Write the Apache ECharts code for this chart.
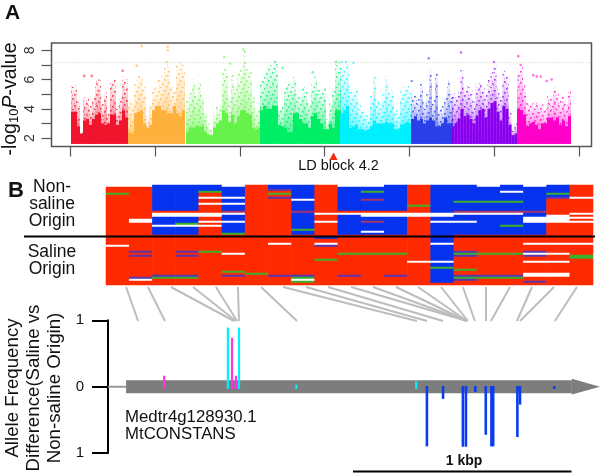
<!DOCTYPE html>
<html><head><meta charset="utf-8">
<style>html,body{margin:0;padding:0;background:#fff}#c{width:600px;height:475px}</style>
<script src="https://cdn.jsdelivr.net/npm/echarts@6/dist/echarts.min.js"></script>
</head><body><div id="c"></div>
<script>
// ---------- Panel A : Manhattan plot ----------
const chromNames=['chr1','chr2','chr3','chr4','chr5','chr6','chr7','chr8'];
const chromColors=['#f0142d','#ffb13d','#66f24a','#00ee66','#00f0ff','#2a3fe8','#8800ee','#ff00c8'];
const chromStarts=[19.5,76.5,134.5,208.5,288.5,359.5,400,465.5];
const sparseTops=[
 [5.7,5.6,4.6,2.5,4.8,4.8,4.2,4.8,6.0,6.0,4.4,5.2,3.9,6.0,6.0,4.2,4.8,6.2,6.0],
 [4.6,4.4,5.7,6.3,6.3,5.5,3.5,4.4,5.4,5.5,6.1,6.3,6.9,7.1,5.5,5.4,7.0,7.2,7.1],
 [4.6,5.3,6.0,5.0,5.9,5.0,3.9,3.0,2.6,3.7,4.2,4.3,6.7,6.7,4.6,6.4,5.5,6.4,6.8,8.0,6.7,6.7,4.8,3.9,4.2],
 [6.0,6.2,7.0,7.0,7.1,7.1,4.2,4.2,5.6,5.8,5.8,6.2,5.0,4.9,5.5,5.2,4.5,5.7,6.2,5.5,5.3,5.6,3.3,4.4,5.5,7.2,7.2],
 [6.9,6.9,7.0,5.4,5.3,5.4,4.3,4.0,3.8,3.6,5.0,6.2,4.8,4.6,5.0,6.2,5.2,5.3,4.0,3.8,5.2,5.5,5.6,5.2],
 [4.9,4.9,4.7,5.8,4.6,5.0,6.7,4.6,6.6,4.0,4.2,4.9,5.9,5.1],
 [5.1,4.9,5.3,6.7,5.4,5.7,5.2,4.6,5.7,5.9,5.6,5.0,6.0,6.5,7.0,5.4,4.9,6.6,6.3,3.7,2.7,3.0],
 [6.7,7.0,5.6,4.4,4.4,4.4,4.6,4.4,4.3,4.0,5.0,4.8,5.5,5.0,4.6,4.9,4.4,5.2]
];
const denseTops=[
 [3.8,3.8,2.8,2.3,3.2,3.3,2.9,3.3,3.6,3.7,3.0,2.9,3.0,3.6,3.6,2.9,3.2,3.9,3.4],
 [2.4,2.3,3.7,3.8,3.9,3.0,2.7,2.9,3.9,4.2,4.2,3.9,3.9,3.7,3.7,4.2,3.7,3.5,3.9],
 [2.4,2.7,2.7,2.8,2.8,2.8,2.4,2.2,2.2,2.7,3.0,3.2,3.9,3.7,3.1,3.6,3.0,3.5,3.9,3.9,3.7,3.6,2.7,2.6,2.7],
 [3.9,4.2,4.0,4.0,4.2,4.2,2.9,2.8,2.7,2.4,2.4,3.7,3.7,3.3,3.0,3.0,2.7,3.5,3.7,3.3,3.0,2.6,2.6,3.0,2.7,3.9,3.9],
 [3.7,3.9,4.2,2.7,2.8,2.9,2.6,2.6,2.5,2.6,2.8,3.2,3.0,3.0,3.0,3.1,3.0,3.0,2.6,2.6,2.9,3.0,3.1,3.0],
 [3.3,3.5,3.2,3.3,3.0,3.2,3.4,3.2,2.8,2.8,3.0,3.4,3.0,3.0],
 [2.8,3.0,3.3,4.0,3.5,3.6,3.3,3.0,3.5,3.9,4.0,3.4,4.0,4.4,4.5,3.8,3.2,4.2,4.0,2.9,2.2,2.3],
 [4.0,3.9,3.6,2.8,3.0,3.1,2.9,2.6,3.0,3.0,3.4,3.4,3.2,3.4,2.9,3.2,2.8,3.5]
];
const outliers=[
 [[32.8,6.25],[40.2,6.25],[71.2,6.6]],
 [[90.2,8.3],[116.2,8.25],[116.2,8.0],[85.2,6.95],[115.2,7.2]],
 [[172.8,7.55],[178.5,7.1],[191.8,8.05]],
 [[231.2,6.8],[223.5,7.2],[261.2,6.5],[284.5,7.2]],
 [[290.2,7.2],[294.5,7.2],[301.8,7.15]],
 [[377.2,7.45],[360.2,5.9]],
 [[409.5,7.85],[442.5,7.2]],
 [[466.8,7.6],[469.2,7.0],[481.8,6.3],[485.2,6.2],[489.2,6.2],[495.2,5.9],[500.2,6.0]]
];
const thresholdValue=7.15;
const manhattanXTicks=[18.5,103.5,188.5,273,357.5,442.5,527.5];
const manhattanYTicks=[2,3,4,5,6,7,8];
const manhattanYLabels=[2,4,6,8];
const baseLogP=1.6;

// ---------- Panel B : haplotype matrix ----------
// one entry per SNP column; rows painted over a red background, "code from-to"
const haplotypeColumns=[
 "W0 G4 W30",
 "W0 W17-18 P33 P35 P46 W47",
 "B0-12 W14-15 B16-24 W20 P45 G46",
 "B0-12 W14-15 B16-24 G19 W20 P33 P35 P45 G46",
 "B0-2 G3 W6 W9 W14-15 W18 W20 G33",
 "B0-23 W0 W6 W9 M13 W14 W18 G24 W34 G43 P45",
 "G44",
 "B0-1 P2 G4 P6 W29 P45",
 "B0-24 W7 M13 G22 P45 G46 W47 G48",
 "W14 W18 B26 W29 P30 G37",
 "W0 B1-24 R13 W14 G34 P45",
 "W0 B1-24 G3 M7 R13 W14-15 M18 W23 G34",
 "B0-24 R13 W14-15 G34 P45",
 "G10 W14-15 W38",
 "B0-13 W14-15 B16-24 W18 B25-48 W29 W38 G41",
 "B0-24 G8 M13 W14 W18 P33 G34 P35 G42 P45 G46 P47",
 "W0 B1-24 G8 M13 W14 G34 P45 G46",
 "B0-24 W3 G8 M13 W14 G20 G34 P45 G46",
 "W0 B1-24 M13 W16-18 W29 P33 W34 P35 W38 W44-45 P48",
 "B0-6 G4 P6 W15-18 W29 W34 W38 W44-45",
 "W6 W14 W16 W18 W29 G35-36"
];
const haplotypeRowCount=50;
const alleleColors={R:'#ff2a00',B:'#0533ee',G:'#3cb02a',W:'#ffffff',P:'#5a35b0',M:'#a8336a'};

// ---------- Panel B : gene track (x in bp, y in allele frequency difference) ----------
const geneAxisMaxBp=2257;
const promoterBp=[0,83];
const geneBodyBp=[83,2128];
const arrowHeadBp=[2128,2257];
const arrowHalfHeight=0.12;
const connectorTopBp=[83,183,289,390,495,596,702,803,908,1009,1115,1216,1321,1422,1528,1628,1734,1844,1945,2046,2151];
const connectorBottomBp=[138,261,578,587,592,601,867,1417,1463,1537,1647,1647,1647,1647,1651,1683,1734,1757,1876,1890,2050];
const cyanBp=[550,601,864,1414];
const cyanDiff=[0.89,0.89,0.03,0.08];
const magentaBp=[569,587,258];
const magentaDiff=[0.735,0.165,0.165];
const blueBp=[1463,1537,1628,1642,1685,1733,1759,1767,1878,1890,2047];
const blueDiff=[-0.9,-0.185,-0.905,-0.905,-0.08,-0.725,-0.9,-0.9,-0.76,-0.27,-0.035];

// ---------- build ----------
// speckle texture: a fill style for the sparse upper part of each chromosome column
function speckle(color){
  const cv=document.createElement('canvas');cv.width=cv.height=22;
  const g=cv.getContext('2d');g.fillStyle=color;
  for(let y=0;y<22;y++)for(let x=0;x<22;x++){
    if((x*3+y*7)%11===0&&(x%2===0)){g.globalAlpha=0.75;g.fillRect(x,y,1.6,1.6);}
    else if((x*5+y*3)%17===0){g.globalAlpha=0.4;g.fillRect(x,y,1,1);}
  }
  return {image:cv,repeat:'repeat'};
}
function fade(color){
  return new echarts.graphic.LinearGradient(0,0,0,1,[{offset:0,color:color+'00'},{offset:1,color:color+'cc'}]);
}
const series=[];
function rangeBar(width,fill,z,xIdx,yIdx){
  return {type:'custom',xAxisIndex:xIdx,yAxisIndex:yIdx,z,clip:false,silent:true,
    encode:{x:0,y:[1,2]},
    renderItem(p,api){
      const a=api.coord([api.value(0),api.value(1)]),b=api.coord([api.value(0),api.value(2)]);
      return {type:'rect',shape:{x:a[0]-width/2,y:Math.min(a[1],b[1]),width,height:Math.abs(a[1]-b[1])},
        style:{fill}};
    }};
}
chromNames.forEach((n,c)=>{
  const sparseData=sparseTops[c].map((v,i)=>[chromStarts[c]+1.5+3*i,baseLogP,v]);
  const sp=rangeBar(3,speckle(chromColors[c]),2,0,0);
  sp.name=n+' sparse';sp.data=sparseData;series.push(sp);
  const fd=rangeBar(3,fade(chromColors[c]),2,0,0);
  fd.name=n+' fade';fd.data=sparseData;series.push(fd);
  const de=rangeBar(3,chromColors[c],3,0,0);
  de.name=n+' dense';
  de.data=denseTops[c].map((v,i)=>[chromStarts[c]+1.5+3*i,baseLogP,v]);
  series.push(de);
  series.push({type:'scatter',name:n+' peaks',xAxisIndex:0,yAxisIndex:0,symbolSize:2.6,z:4,silent:true,
    itemStyle:{color:chromColors[c],opacity:0.55},data:outliers[c]});
});
series.push({type:'line',name:'threshold',xAxisIndex:0,yAxisIndex:0,symbol:'none',silent:true,z:5,
  lineStyle:{color:'#c4c9b4',width:1,type:[1,2]},data:[[0,thresholdValue],[540,thresholdValue]]});

// haplotype heatmap
const heat=[];
const rows=Array.from({length:haplotypeRowCount},(_,i)=>String(i));
const cols=haplotypeColumns.map((_,i)=>String(i));
haplotypeColumns.forEach((spec,c)=>{
  const col=new Array(haplotypeRowCount).fill('R');
  spec.split(' ').forEach(t=>{
    const m=t.match(/^([A-Z])(\d+)(?:-(\d+))?$/);
    const a=+m[2],b=m[3]?+m[3]:a;
    for(let r=a;r<=b;r++)col[r]=m[1];
  });
  col.forEach((k,r)=>heat.push({value:[c,r,1],itemStyle:{color:alleleColors[k]}}));
});
series.push({type:'heatmap',name:'haplotypes',xAxisIndex:1,yAxisIndex:1,data:heat,silent:true,
  progressive:0,itemStyle:{borderWidth:0}});

// connectors
connectorTopBp.forEach((t,i)=>series.push({type:'line',name:'connector',xAxisIndex:3,yAxisIndex:3,symbol:'none',silent:true,
  lineStyle:{color:'#bdbdbd',width:2,cap:'butt'},data:[[t,1],[connectorBottomBp[i],0]]}));

// gene
series.push({type:'line',name:'promoter',xAxisIndex:2,yAxisIndex:2,symbol:'none',silent:true,z:2,
  lineStyle:{color:'#999',width:2,cap:'butt'},data:promoterBp.map(x=>[x,0])});
series.push({type:'line',name:'gene body',xAxisIndex:2,yAxisIndex:2,symbol:'none',silent:true,z:2,clip:false,
  lineStyle:{color:'#7d7d7d',width:13,cap:'butt'},data:geneBodyBp.map(x=>[x,0])});
series.push({type:'custom',name:'arrow',xAxisIndex:2,yAxisIndex:2,silent:true,z:2,clip:false,
  data:[[arrowHeadBp[0],arrowHeadBp[1],arrowHalfHeight]],encode:{x:[0,1]},
  renderItem(p,api){
    const a=api.value(0),b=api.value(1),h=api.value(2);
    return {type:'polygon',shape:{points:[api.coord([a,h]),api.coord([b,0]),api.coord([a,-h])]},style:{fill:'#7d7d7d'}};
  }});
const cy=rangeBar(2.2,'#00f0ff',3,2,2);cy.name='cyan';cy.data=cyanBp.map((x,i)=>[x,-0.035,cyanDiff[i]]);series.push(cy);
const mg=rangeBar(2.2,'#ff33e0',3,2,2);mg.name='magenta';mg.data=magentaBp.map((x,i)=>[x,-0.035,magentaDiff[i]]);series.push(mg);
const bl=rangeBar(2.6,'#0a3cf0',3,2,2);bl.name='blue';bl.data=blueBp.map((x,i)=>[x,0.01,blueDiff[i]]);series.push(bl);

const FF='"Liberation Sans",Arial,Helvetica,sans-serif';
const txt=(text,x,y,size,extra)=>({type:'text',x,y,z:50,silent:true,style:Object.assign({text,font:`${size}px ${FF}`,fill:'#111',textAlign:'center',textVerticalAlign:'middle'},extra||{})});
const rotTxt=(text,x,y,size)=>({type:'text',x,y,rotation:Math.PI/2,z:50,silent:true,style:{text,font:`${size}px ${FF}`,fill:'#111',textAlign:'center',textVerticalAlign:'middle'}});

const option={
  animation:false,backgroundColor:'#fff',
  grid:[
    {left:51.5,top:43,width:540,height:103.5,show:true,borderColor:'#555',borderWidth:1.5,backgroundColor:'transparent'},
    {left:106,top:185,width:487,height:100,show:false},
    {left:108,top:320.3,width:492,height:132.7,show:false},
    {left:108,top:287,width:492,height:34,show:false}
  ],
  xAxis:[
    {gridIndex:0,type:'value',min:0,max:540,axisLine:{show:false},splitLine:{show:false},
      axisLabel:{show:false},axisTick:{show:true,length:10,lineStyle:{color:'#555',width:1.2},customValues:manhattanXTicks}},
    {gridIndex:1,type:'category',data:cols,show:false},
    {gridIndex:2,type:'value',min:0,max:geneAxisMaxBp,show:false},
    {gridIndex:3,type:'value',min:0,max:geneAxisMaxBp,show:false}
  ],
  yAxis:[
    {gridIndex:0,type:'value',min:1.42,max:8.5,axisLine:{show:false},splitLine:{show:false},
      axisTick:{show:true,length:10,lineStyle:{color:'#555',width:1.2},customValues:manhattanYTicks},
      axisLabel:{show:true,rotate:90,margin:14,fontFamily:FF,fontSize:14,color:'#333',customValues:manhattanYLabels}},
    {gridIndex:1,type:'category',data:rows,inverse:true,show:false},
    {gridIndex:2,type:'value',min:-1,max:1,interval:1,splitLine:{show:false},
      axisLine:{show:true,lineStyle:{color:'#000',width:2}},
      axisTick:{show:true,length:16,lineStyle:{color:'#000',width:2}},
      axisLabel:{margin:24,fontFamily:FF,fontSize:15,color:'#111',formatter:v=>String(Math.abs(v))}},
    {gridIndex:3,type:'value',min:0,max:1,show:false}
  ],
  series,
  graphic:[
    txt('A',12.5,13,21,{font:`bold 21px ${FF}`}),
    txt('B',16,191,22,{font:`bold 22px ${FF}`}),
    {type:'text',x:11,y:99,rotation:Math.PI/2,z:50,silent:true,style:{
      text:'{a|-log}{s|10}{i|P}{a|-value}',textAlign:'center',textVerticalAlign:'middle',
      rich:{a:{font:`19.5px ${FF}`,fill:'#111'},s:{font:`13px ${FF}`,fill:'#111',verticalAlign:'bottom'},i:{font:`italic 19.5px ${FF}`,fill:'#111'}}}},
    txt('LD block 4.2',338.5,166,14.5),
    {type:'polygon',z:50,silent:true,shape:{points:[[333.5,152.5],[337.5,160],[329.5,160]]},style:{fill:'#f52b10'}},
    txt('Non-',52,187,17.5),txt('saline',52,204,17.5),txt('Origin',52,221,17.5),
    txt('Saline',52,252,17.5),txt('Origin',52,269,17.5),
    {type:'rect',z:50,silent:true,shape:{x:24,y:235.5,width:571,height:2},style:{fill:'#000'}},
    rotTxt('Allele Frequency',12.5,388,18.7),
    rotTxt('Difference(Saline vs',33.5,388,18.7),
    rotTxt('Non-saline Origin)',55,388,18.7),
    txt('Medtr4g128930.1',125,417,16.8,{textAlign:'left'}),
    txt('MtCONSTANS',125,434,16.8,{textAlign:'left'}),
    txt('1 kbp',464,461,14,{font:`bold 14px ${FF}`}),
    {type:'rect',z:50,silent:true,shape:{x:353,y:470.5,width:218.5,height:2},style:{fill:'#000'}}
  ]
};
const chart=echarts.init(document.getElementById('c'),null,{renderer:'canvas',width:600,height:475});
chart.setOption(option);
</script></body></html>
